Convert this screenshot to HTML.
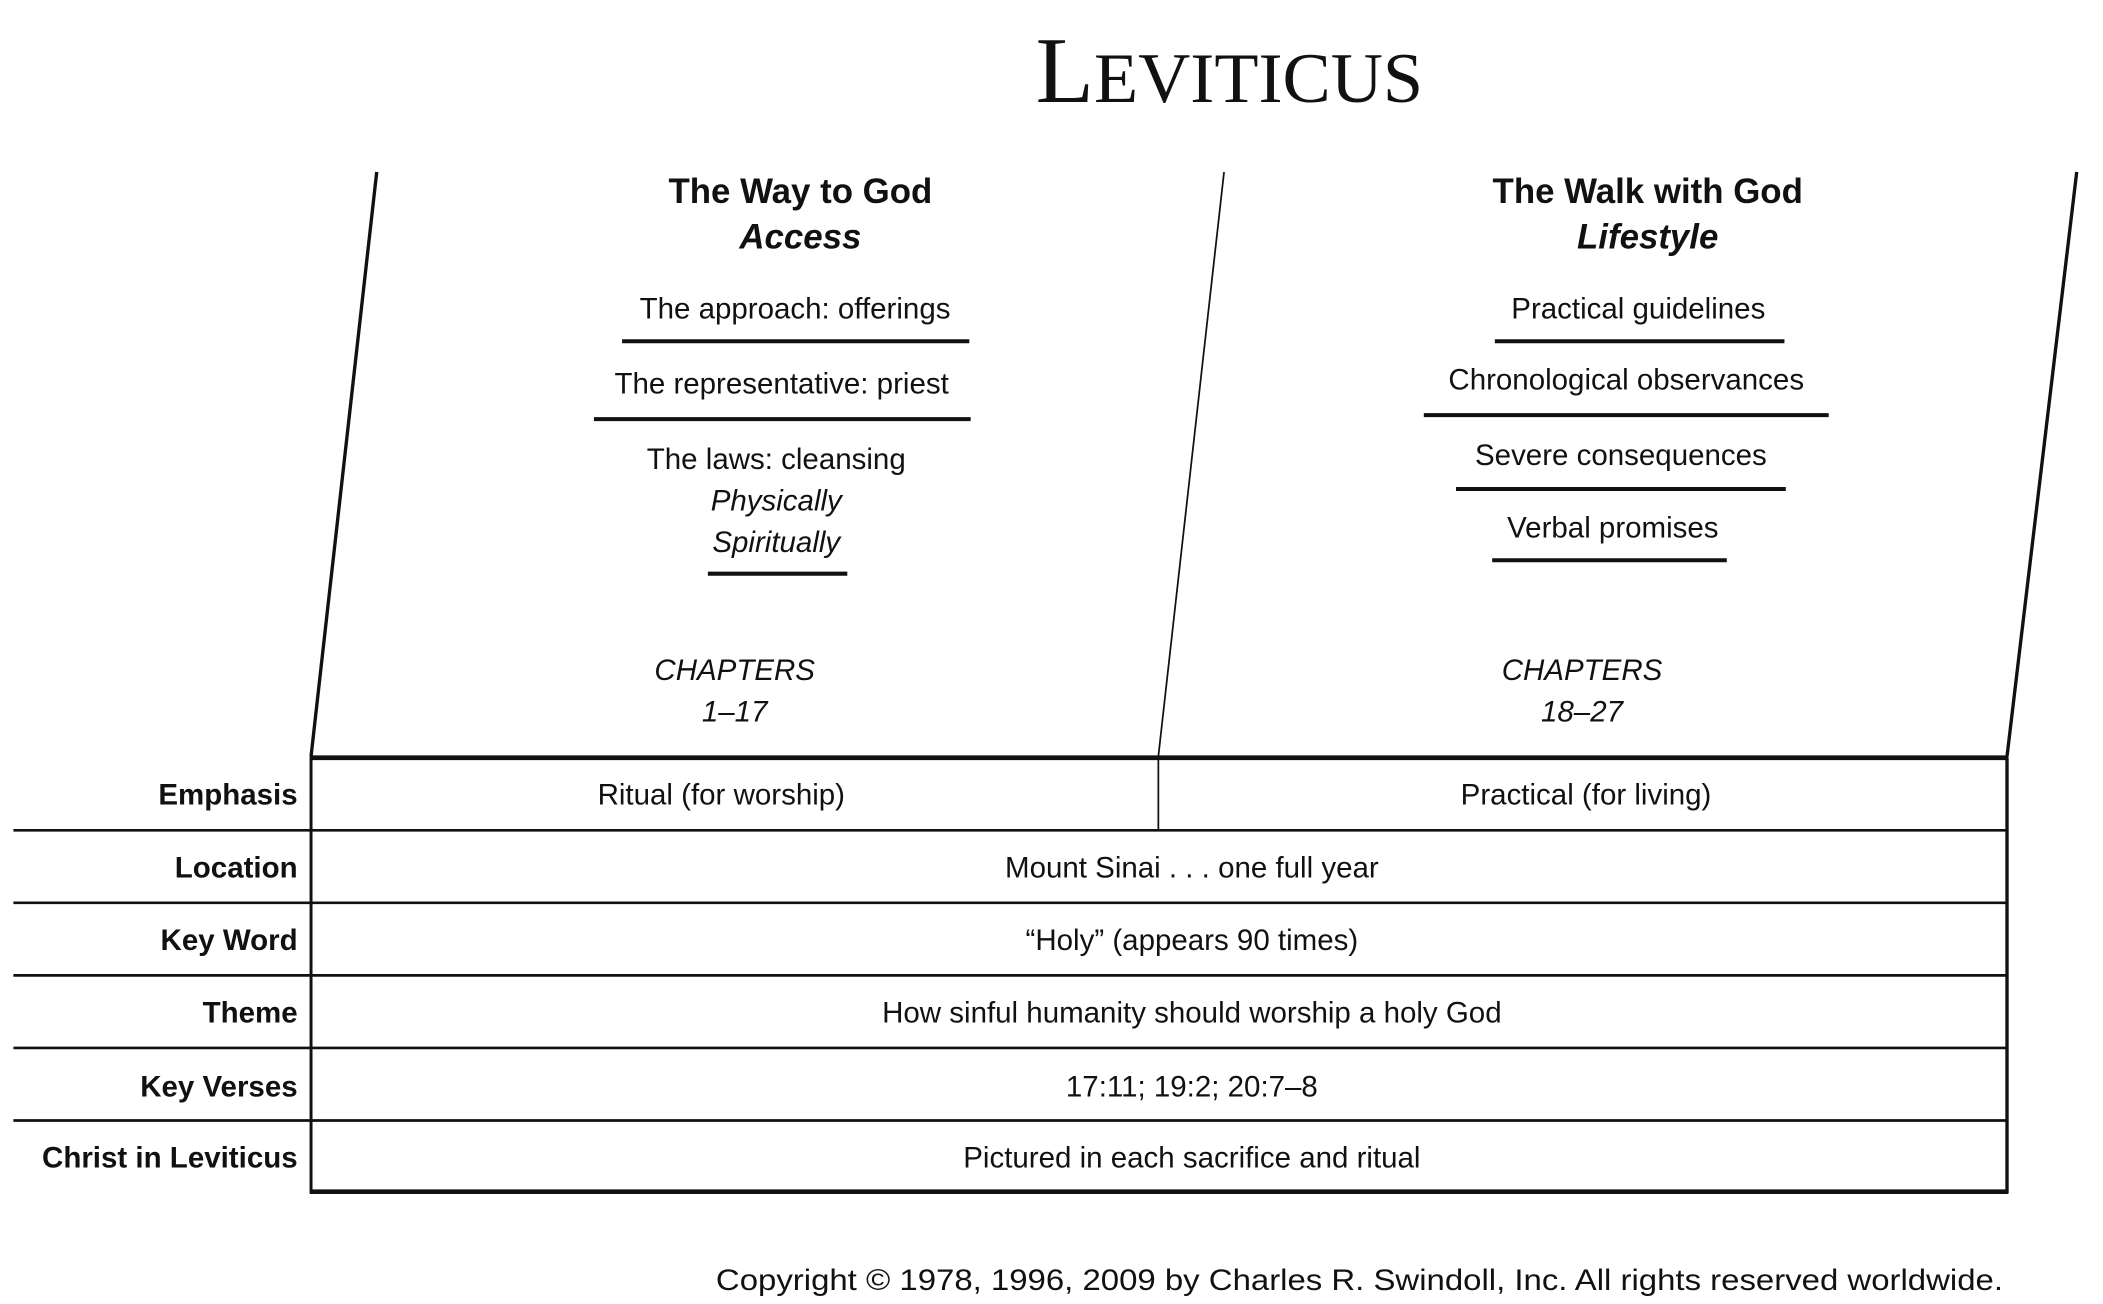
<!DOCTYPE html>
<html><head><meta charset="utf-8"><style>
html,body{margin:0;padding:0;background:#fff;}
svg{display:block;}
text{font-family:"Liberation Sans",Arial,sans-serif;fill:#111;}
</style></head><body>
<svg width="2103" height="1304" viewBox="0 0 1568.6 970.6" preserveAspectRatio="none">
<text x="917" y="76" text-anchor="middle" textLength="289" lengthAdjust="spacingAndGlyphs" style="font-family:'Liberation Serif',serif;font-size:53px"><tspan style="font-size:70px">L</tspan>EVITICUS</text>

<g stroke="#111" fill="none">
<line x1="281" y1="128" x2="232" y2="563" stroke-width="2.5"/>
<line x1="913" y1="128" x2="864" y2="563" stroke-width="1.3"/>
<line x1="1549" y1="128" x2="1497" y2="563" stroke-width="2.5"/>
<line x1="231" y1="564" x2="1498" y2="564" stroke-width="3.5"/>
<line x1="232" y1="564" x2="232" y2="888" stroke-width="2.2"/>
<line x1="1497" y1="564" x2="1497" y2="888" stroke-width="2.5"/>
<line x1="864" y1="564" x2="864" y2="618" stroke-width="1.3"/>
<line x1="231" y1="887" x2="1498" y2="887" stroke-width="3.5"/>
<line x1="10" y1="618" x2="1497" y2="618" stroke-width="2"/>
<line x1="10" y1="672" x2="1497" y2="672" stroke-width="2"/>
<line x1="10" y1="726" x2="1497" y2="726" stroke-width="2"/>
<line x1="10" y1="780" x2="1497" y2="780" stroke-width="2"/>
<line x1="10" y1="834" x2="1497" y2="834" stroke-width="2"/>
</g>

<g font-size="26" font-weight="bold" text-anchor="middle">
<text x="597" y="151">The Way to God</text>
<text x="597" y="185" font-style="italic">Access</text>
<text x="1229" y="151">The Walk with God</text>
<text x="1229" y="185" font-style="italic">Lifestyle</text>
</g>

<g font-size="22" text-anchor="middle">
<text x="593" y="237">The approach: offerings</text>
<text x="583" y="293">The representative: priest</text>
<text x="579" y="349">The laws: cleansing</text>
<text x="579" y="380" font-style="italic">Physically</text>
<text x="579" y="411" font-style="italic">Spiritually</text>
<text x="1222" y="237">Practical guidelines</text>
<text x="1213" y="290">Chronological observances</text>
<text x="1209" y="346">Severe consequences</text>
<text x="1203" y="400">Verbal promises</text>
<text x="548" y="506" font-style="italic">CHAPTERS</text>
<text x="548" y="537" font-style="italic">1–17</text>
<text x="1180" y="506" font-style="italic">CHAPTERS</text>
<text x="1180" y="537" font-style="italic">18–27</text>
</g>

<g stroke="#111" stroke-width="3">
<line x1="464" y1="254" x2="723" y2="254"/>
<line x1="443" y1="312" x2="724" y2="312"/>
<line x1="528" y1="427" x2="632" y2="427"/>
<line x1="1115" y1="254" x2="1331" y2="254"/>
<line x1="1062" y1="309" x2="1364" y2="309"/>
<line x1="1086" y1="364" x2="1332" y2="364"/>
<line x1="1113" y1="417" x2="1288" y2="417"/>
</g>

<g font-size="22" font-weight="bold" text-anchor="end">
<text x="222" y="599">Emphasis</text>
<text x="222" y="653">Location</text>
<text x="222" y="707">Key Word</text>
<text x="222" y="761">Theme</text>
<text x="222" y="816">Key Verses</text>
<text x="222" y="869">Christ in Leviticus</text>
</g>

<g font-size="22" text-anchor="middle">
<text x="538" y="599">Ritual (for worship)</text>
<text x="1183" y="599">Practical (for living)</text>
<text x="889" y="653">Mount Sinai . . . one full year</text>
<text x="889" y="707">“Holy” (appears 90 times)</text>
<text x="889" y="761">How sinful humanity should worship a holy God</text>
<text x="889" y="816">17:11; 19:2; 20:7–8</text>
<text x="889" y="869">Pictured in each sacrifice and ritual</text>
</g>

<text x="1494" y="960" font-size="22" text-anchor="end" textLength="960" lengthAdjust="spacingAndGlyphs">Copyright © 1978, 1996, 2009 by Charles R. Swindoll, Inc. All rights reserved worldwide.</text>
</svg>
</body></html>
